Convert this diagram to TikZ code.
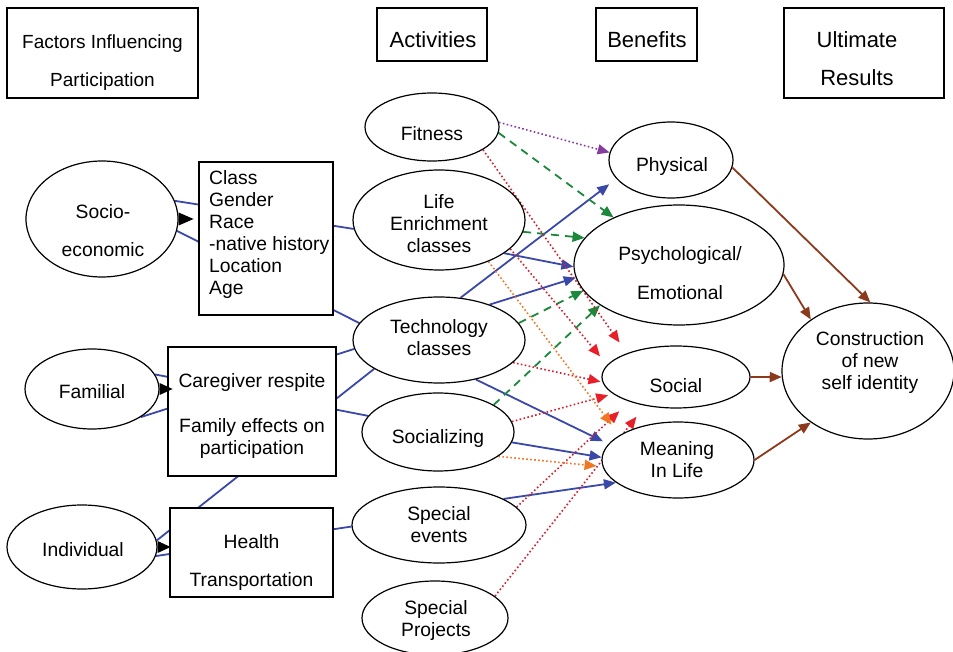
\documentclass[tikz,border=0pt]{standalone}
\usepackage{fontspec}
\setmainfont{Liberation Sans}
\usetikzlibrary{shapes.geometric,arrows.meta,backgrounds}
\definecolor{cblue}{RGB}{58,72,168}
\definecolor{cred}{RGB}{210,32,48}
\definecolor{credtip}{RGB}{232,30,40}
\definecolor{cgreen}{RGB}{28,136,60}
\definecolor{corange}{RGB}{238,120,36}
\definecolor{cpurple}{RGB}{132,62,160}
\definecolor{cbrown}{RGB}{140,58,28}
\begin{document}
\begin{tikzpicture}[x=1pt,y=-1pt,
  every node/.style={font=\fontsize{19.3}{22}\selectfont},
  ell/.style={draw,ellipse,line width=1.2pt,fill=white,inner sep=0pt},
  box/.style={draw,rectangle,line width=1.2pt,fill=white,inner sep=0pt},
  txt/.style={inner sep=0pt,align=center},
  loose/.style={font=\fontsize{19.3}{38}\selectfont},
  head/.style={font=\fontsize{22}{38}\selectfont},
  factorline/.style={cblue,line width=1.8pt},
  tipped/.style={-{Triangle[length=12pt,width=10pt]}},
  blu/.style={tipped,cblue,line width=1.8pt},
  grn/.style={-{Triangle[length=12pt,width=10pt]},cgreen,line width=1.8pt,dash pattern=on 8pt off 6pt},
  dotline/.style={line width=1.6pt,dash pattern=on 1.6pt off 2.4pt},
  redd/.style={dotline,cred,-{Triangle[length=12pt,width=10pt,color=credtip]}},
  orng/.style={dotline,corange,-{Triangle[length=12pt,width=10pt]}},
  purp/.style={dotline,cpurple,-{Triangle[length=12pt,width=10pt]}},
  brwn/.style={tipped,cbrown,line width=1.8pt},
  blackwedge/.style={fill=black}
]
\useasboundingbox (0,0) rectangle (953,652);

% header boxes
\node[box,minimum width=191pt,minimum height=90pt] (hfac) at (102.5,53) {};
\node[txt,font=\fontsize{19}{38}\selectfont] (hfac-t) at (102.5,63) {Factors Influencing\\Participation};
\node[box,minimum width=110pt,minimum height=53pt] (hact) at (432,34.5) {};
\node[txt,head] (hact-t) at (433,40) {Activities};
\node[box,minimum width=101pt,minimum height=53pt] (hben) at (646.5,34.5) {};
\node[txt,head] (hben-t) at (647,40) {Benefits};
\node[box,minimum width=160pt,minimum height=90pt] (hult) at (864,53) {};
\node[txt,head] (hult-t) at (857,59) {Ultimate\\Results};

% factor ellipses
\node[ell,minimum width=152pt,minimum height=116pt] (se) at (102,219) {};
\node[txt,loose] (se-t) at (103,230.5) {Socio-\\economic};
\node[ell,minimum width=134pt,minimum height=80pt] (fam) at (92,389) {};
\node[txt] (fam-t) at (92,392) {Familial};
\node[ell,minimum width=150pt,minimum height=84pt] (ind) at (82,547) {};
\node[txt] (ind-t) at (83,550) {Individual};

% activity ellipses
\node[ell,minimum width=134pt,minimum height=68pt] (fit) at (432,127) {};
\node[txt] (fit-t) at (432,134) {Fitness};
\node[ell,minimum width=172pt,minimum height=100pt] (life) at (439,220) {};
\node[txt] (life-t) at (439,223.5) {Life\\Enrichment\\classes};
\node[ell,minimum width=172pt,minimum height=86pt] (tech) at (439,340) {};
\node[txt] (tech-t) at (439,337.5) {Technology\\classes};
\node[ell,minimum width=152pt,minimum height=78pt] (soc) at (438,432) {};
\node[txt] (soc-t) at (438,439) {Socializing};
\node[ell,minimum width=174pt,minimum height=76pt] (spev) at (439,525) {};
\node[txt] (spev-t) at (439,524.5) {Special\\events};
\node[ell,minimum width=146pt,minimum height=74pt] (sppr) at (435,618) {};
\node[txt] (sppr-t) at (436,621) {Special\\Projects};

% benefit ellipses
\node[ell,minimum width=124pt,minimum height=76pt] (phys) at (671,160) {};
\node[txt] (phys-t) at (672,167) {Physical};
\node[ell,minimum width=210pt,minimum height=120pt] (psy) at (679,265) {};
\node[txt,font=\fontsize{19.3}{39}\selectfont] (psy-t) at (680,273.5) {Psychological/\\Emotional};
\node[ell,minimum width=148pt,minimum height=62pt] (socb) at (676,377) {};
\node[txt] (socb-t) at (676,386) {Social};
\node[ell,minimum width=152pt,minimum height=76pt] (mean) at (678,460) {};
\node[txt] (mean-t) at (677,459.5) {Meaning\\In Life};
\node[ell,minimum width=172pt,minimum height=136pt] (cons) at (868,371) {};
\node[txt] (cons-t) at (870,363) {Construction\\of new\\self identity};

% connectors behind everything
\begin{scope}[on background layer]
  % factors to activities (pass behind the boxes)
  \draw[factorline] (se.14) -- (life.186);
  \draw[factorline] (se.-9) -- (tech.168.5);
  \draw[factorline] (fam.13) -- (soc.167);
  \draw[factorline] (fam.-30) -- (tech.186.6);
  \draw[factorline] (ind.5) -- (tech.204);
  \draw[factorline] (ind.-7.6) -- (spev.181);
  % blue activity to benefit
  \draw[blu,shorten >=9pt] (tech.63) -- (phys.199);
  \draw[blu] (life.-27) -- (psy.181);
  \draw[blu] (tech.35.5) -- (psy.187.5);
  \draw[blu,shorten >=6pt] (tech.-47) -- (mean.167);
  \draw[blu] (soc.-8.5) -- (mean.178.5);
  \draw[blu] (spev.22) -- (mean.200);
  % green dashed
  \draw[grn] (fit.-5) -- (psy.144.5);
  \draw[grn] (life.-8.6) -- (psy.164);
  \draw[grn] (tech.12) -- (psy.195);
  \draw[grn] (soc.26) -- (psy.207);
  % purple dotted
  \draw[purp] (fit.4) -- (phys.173);
  % red dotted
  \draw[redd,shorten >=13pt] (fit.-24) -- (socb.154.6);
  \draw[redd,shorten >=11pt] (life.-22) -- (socb.170);
  \draw[redd,shorten >=2pt] (tech.-17.5) -- (socb.184);
  \draw[redd,shorten >=5pt] (soc.8) -- (socb.195);
  \draw[redd,shorten >=14pt] (spev.13) -- (socb.208);
  \draw[redd,shorten >=14pt] (sppr.20) -- (socb.223);
  % orange dotted
  \draw[orng,shorten >=13pt] (life.-40.6) -- (mean.157);
  \draw[orng,shorten >=6pt] (soc.-22) -- (mean.185.6);
\end{scope}

% factor boxes (cover the factor lines)
\node[box,minimum width=134pt,minimum height=153pt] (clsbox) at (266,238.5) {};
\node[txt,align=left,anchor=west] (cls-t) at (209,235) {Class\\Gender\\Race\\-native history\\Location\\Age};
\node[box,minimum width=168pt,minimum height=129pt] (carebox) at (252,411.5) {};
\node[txt] (care-t) at (252,416) {Caregiver respite\\[23pt]Family effects on\\participation};
\node[box,minimum width=163pt,minimum height=89pt] (hlthbox) at (251.5,552.5) {};
\node[txt,loose] (hlth-t) at (251.5,562.5) {Health\\Transportation};

% black wedges at the factor ellipses
\fill[blackwedge] ([yshift=6.5pt]se.east) -- ([xshift=15pt]se.east) -- ([yshift=-6.5pt]se.east) -- cycle;
\fill[blackwedge] ([yshift=6pt]fam.east) -- ([xshift=13pt]fam.east) -- ([yshift=-6pt]fam.east) -- cycle;
\fill[blackwedge] ([yshift=6pt]ind.east) -- ([xshift=13pt]ind.east) -- ([yshift=-6pt]ind.east) -- cycle;

% benefits to ultimate result
\draw[brwn] (phys.-7.5) -- (cons.88.3);
\draw[brwn] (psy.-5.5) -- (cons.138.8);
\draw[brwn] (socb.0) -- (cons.184);
\draw[brwn] (mean.0) -- (cons.222.9);
\end{tikzpicture}
\end{document}
